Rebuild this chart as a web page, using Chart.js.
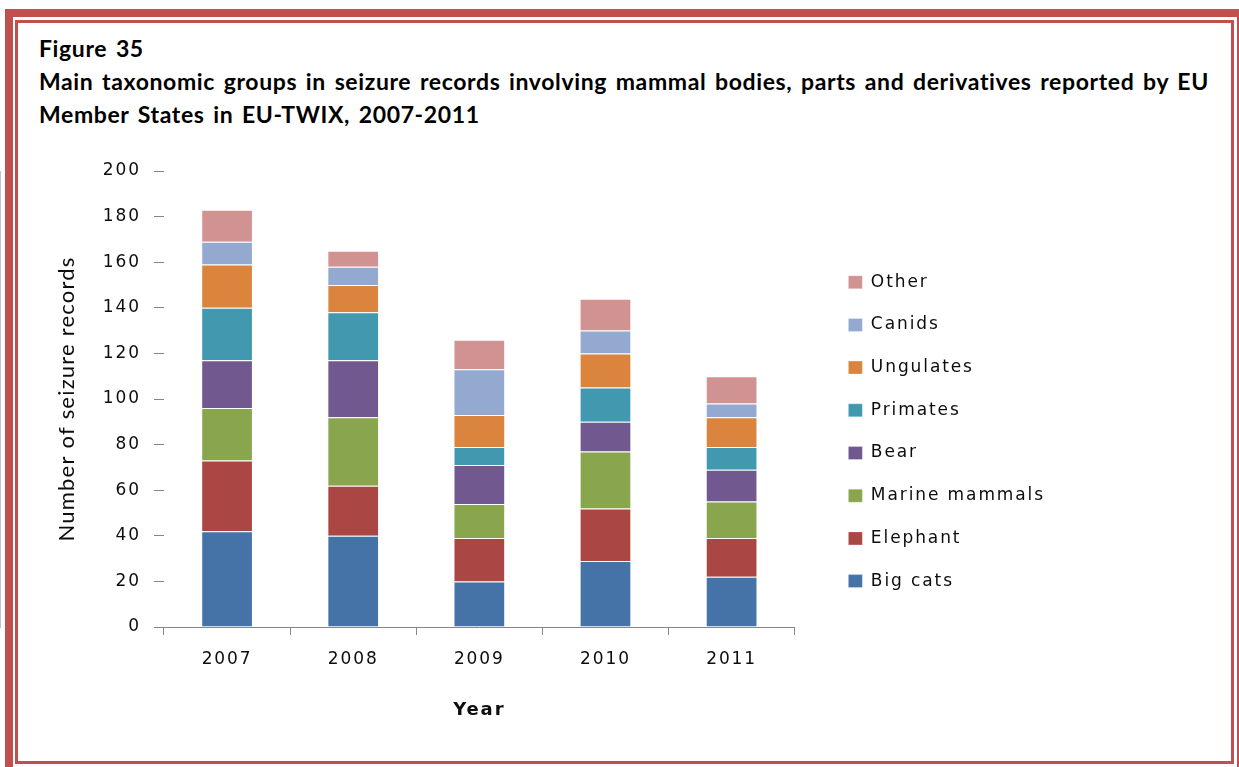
<!DOCTYPE html>
<html>
<head>
<meta charset="utf-8">
<script src="https://cdn.jsdelivr.net/npm/chart.js@4.4.1/dist/chart.umd.min.js"></script>
<style>
  html, body { margin: 0; padding: 0; background: #fff; }
  body { width: 1239px; height: 767px; position: relative; overflow: hidden; }
  .frame-outer { position: absolute; left: 5px; top: 9px; width: 1240px; height: 766px;
    border: 8px solid #C0504D; box-sizing: border-box; }
  .frame-inner { position: absolute; left: 15px; top: 20px; width: 1219px; height: 744px;
    border: 3px solid #C0504D; box-sizing: border-box; }
  .caption { position: absolute; left: 39px; top: 31.5px; font-family: 'Lato', sans-serif;
    font-weight: 700; font-size: 23px; line-height: 33.3px; letter-spacing: 0.62px;
    word-spacing: 2.5px; color: #000; white-space: nowrap; }
  canvas { position: absolute; left: 0; top: 0; }
</style>
</head>
<body>
<div class="frame-outer"></div>
<div class="frame-inner"></div>
<div class="caption">
  <div>Figure 35</div>
  <div>Main taxonomic groups in seizure records involving mammal bodies, parts and derivatives reported by EU</div>
  <div>Member States in EU-TWIX, 2007-2011</div>
</div>
<canvas id="chart" width="1239" height="767"></canvas>
<script>
// Seizure records per taxonomic group, by year
const years = ['2007', '2008', '2009', '2010', '2011'];
const bigCats       = [42, 40, 20, 29, 22];
const elephant      = [31, 22, 19, 23, 17];
const marineMammals = [23, 30, 15, 25, 16];
const bear          = [21, 25, 17, 13, 14];
const primates      = [23, 21,  8, 15, 10];
const ungulates     = [19, 12, 14, 15, 13];
const canids        = [10,  8, 20, 10,  6];
const other         = [14,  7, 13, 14, 12];

const yMin = 0, yMax = 200, yStep = 20;

const series = [
  { label: 'Big cats',       data: bigCats,       color: '#4572A7' },
  { label: 'Elephant',       data: elephant,      color: '#AA4643' },
  { label: 'Marine mammals', data: marineMammals, color: '#89A54E' },
  { label: 'Bear',           data: bear,          color: '#71588F' },
  { label: 'Primates',       data: primates,      color: '#4198AF' },
  { label: 'Ungulates',      data: ungulates,     color: '#DB843D' },
  { label: 'Canids',         data: canids,        color: '#93A9CF' },
  { label: 'Other',          data: other,         color: '#D19392' }
];

const TEXT_SPACING = '1.9px';
const TITLE_SPACING = '1.2px';
const AXIS_GREY = '#868686';
const TEXT_COLOR = '#0d0d0d';
const tickFont = { family: "'DejaVu Sans', sans-serif", size: 17 };

// Wide-tracked text for ticks and legend; the y-axis title is drawn
// after the datasets (grid layer z = 1) with tighter spacing.
const textSpacing = {
  id: 'textSpacing',
  beforeUpdate(chart) { chart.ctx.letterSpacing = TEXT_SPACING; },
  beforeDraw(chart) { chart.ctx.letterSpacing = TEXT_SPACING; },
  afterDatasetsDraw(chart) { chart.ctx.letterSpacing = TITLE_SPACING; },
  afterDraw(chart) { chart.ctx.letterSpacing = '0px'; }
};

// Place the legend column a little right of and below the plot area's corner.
const legendPlacement = {
  id: 'legendPlacement',
  afterLayout(chart) {
    const lg = chart.legend;
    if (!lg) return;
    const w = lg.width, h = lg.height;
    lg.left = chart.chartArea.right + 28;
    lg.right = lg.left + w;
    lg.top = chart.chartArea.top + 77;
    lg.bottom = lg.top + h;
  }
};

new Chart(document.getElementById('chart'), {
  type: 'bar',
  data: {
    labels: years,
    datasets: series.map(s => ({
      label: s.label,
      data: s.data,
      backgroundColor: s.color,
      borderColor: 'rgba(255,255,255,0.28)',
      borderWidth: 1,
      barPercentage: 0.41,
      categoryPercentage: 1.0
    }))
  },
  options: {
    responsive: false,
    devicePixelRatio: 1,
    animation: false,
    layout: { padding: { left: 20, top: 171, right: 212, bottom: 40 } },
    plugins: {
      tooltip: { enabled: false },
      legend: {
        position: 'right',
        align: 'start',
        fullSize: false,
        reverse: true,
        labels: {
          boxWidth: 14,
          boxHeight: 13,
          padding: 25.7,
          color: TEXT_COLOR,
          font: tickFont
        }
      }
    },
    scales: {
      x: {
        stacked: true,
        offset: true,
        afterFit(scale) { scale.height = 100; },
        grid: { display: true, offset: true, drawOnChartArea: false, drawTicks: true,
                tickLength: 8, color: AXIS_GREY },
        border: { display: true, color: AXIS_GREY, width: 1 },
        ticks: { color: TEXT_COLOR, font: tickFont, padding: 14.5, maxRotation: 0 },
        title: {
          display: true, text: 'Year', color: TEXT_COLOR,
          font: { family: "'DejaVu Sans', sans-serif", size: 18, weight: 'bold' },
          padding: { top: 0, bottom: 6 }
        }
      },
      y: {
        stacked: true,
        min: yMin, max: yMax,
        afterFit(scale) { scale.width = 144; },
        grid: { display: true, drawOnChartArea: false, drawTicks: true, tickLength: 10,
                color: AXIS_GREY, z: 1 },
        border: { display: true, color: AXIS_GREY, width: 1 },
        ticks: { stepSize: yStep, color: TEXT_COLOR, font: tickFont, padding: 13 },
        title: {
          display: true, text: 'Number of seizure records', color: TEXT_COLOR,
          font: { family: "'Lato', sans-serif", size: 22 },
          padding: { top: 34, bottom: 0 }
        }
      }
    }
  },
  plugins: [textSpacing, legendPlacement]
});
</script>
</body>
</html>
